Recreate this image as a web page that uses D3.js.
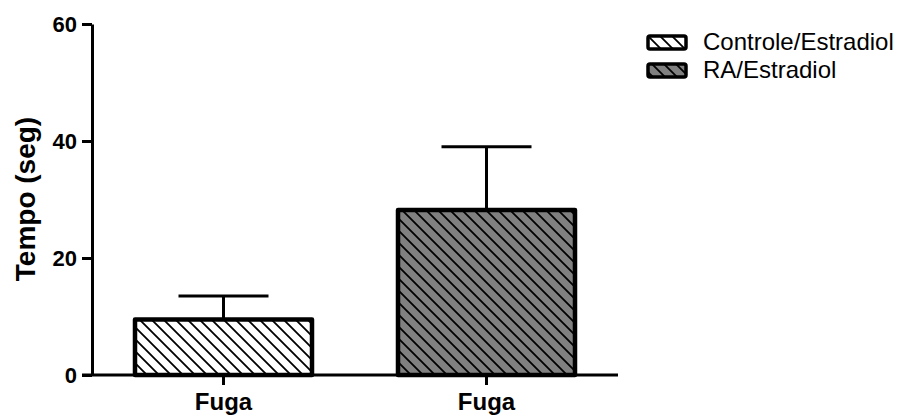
<!DOCTYPE html>
<html>
<head>
<meta charset="utf-8">
<script src="https://cdn.jsdelivr.net/npm/d3@7"></script>
<style>
  html, body { margin: 0; padding: 0; background: #fff; }
  svg { display: block; font-family: Arial, "Liberation Sans", sans-serif; }
</style>
</head>
<body>
<svg id="chart" width="908" height="417"></svg>
<script>
// Escape latency per group (seconds), mean and upper error
const groups = ["Controle/Estradiol", "RA/Estradiol"];
const categories = ["Fuga", "Fuga"];
const means = [9.5, 28.2];
const errors = [4.0, 10.8];
const fills = ["#ffffff", "#808080"];
const yTicks = [0, 20, 40, 60];

const FONT = "Arial, 'Liberation Sans', sans-serif";
const svg = d3.select("#chart");
const defs = svg.append("defs");

// Diagonal hatch ("\") patterns, one per fill colour
fills.forEach((c, i) => {
  const p = defs.append("pattern")
    .attr("id", "hatch" + i)
    .attr("patternUnits", "userSpaceOnUse")
    .attr("width", 12).attr("height", 12);
  p.append("rect").attr("width", 12).attr("height", 12).attr("fill", c);
  p.append("path")
    .attr("d", "M-3,9 L3,15 M0,0 L12,12 M9,-3 L15,3")
    .attr("stroke", "#000").attr("stroke-width", 1.8);
});

const y = d3.scaleLinear().domain([0, 60]).range([375, 24]);
const x = d3.scaleBand().domain(d3.range(means.length)).range([92, 618])
  .paddingInner(0.327).paddingOuter(0.1635);

// Y axis
const yAxis = svg.append("g").attr("transform", "translate(92,0)")
  .call(d3.axisLeft(y).tickValues(yTicks).tickSize(10).tickPadding(5).tickSizeOuter(0));
yAxis.select(".domain").attr("stroke", "#000").attr("stroke-width", 3);
yAxis.selectAll(".tick line").attr("stroke", "#000").attr("stroke-width", 3);
yAxis.selectAll(".tick text").attr("font-size", 22).attr("font-weight", "bold")
  .attr("fill", "#000").attr("font-family", FONT);

svg.append("text")
  .attr("transform", "translate(35,199) rotate(-90)")
  .attr("text-anchor", "middle")
  .attr("font-size", 28).attr("font-weight", "bold")
  .text("Tempo (seg)");

// Error bars (upper only)
const eb = svg.append("g");
means.forEach((m, i) => {
  const cx = x(i) + x.bandwidth() / 2;
  eb.append("line").attr("x1", cx).attr("x2", cx)
    .attr("y1", y(m)).attr("y2", y(m + errors[i]))
    .attr("stroke", "#000").attr("stroke-width", 3);
  eb.append("line").attr("x1", cx - 45).attr("x2", cx + 45)
    .attr("y1", y(m + errors[i])).attr("y2", y(m + errors[i]))
    .attr("stroke", "#000").attr("stroke-width", 3);
});

// X axis
svg.append("line").attr("x1", 82).attr("x2", 618)
  .attr("y1", y(0)).attr("y2", y(0))
  .attr("stroke", "#000").attr("stroke-width", 3);

// Bars
svg.append("g").selectAll("rect").data(means).join("rect")
  .attr("x", (d, i) => x(i))
  .attr("y", d => y(d))
  .attr("width", x.bandwidth())
  .attr("height", d => y(0) - y(d))
  .attr("fill", (d, i) => `url(#hatch${i})`)
  .attr("stroke", "#000").attr("stroke-width", 4.5)
  .attr("stroke-linejoin", "round");

// Category ticks and labels
categories.forEach((c, i) => {
  const cx = x(i) + x.bandwidth() / 2;
  svg.append("line").attr("x1", cx).attr("x2", cx)
    .attr("y1", y(0)).attr("y2", y(0) + 10)
    .attr("stroke", "#000").attr("stroke-width", 3);
  svg.append("text").attr("x", cx).attr("y", 410)
    .attr("text-anchor", "middle").attr("font-size", 24).attr("font-weight", "bold")
    .text(c);
});

// Legend
const lg = svg.append("g");
groups.forEach((g, i) => {
  const ly = 36 + i * 28;
  lg.append("rect").attr("x", 648).attr("y", ly).attr("width", 38).attr("height", 13)
    .attr("rx", 2)
    .attr("fill", `url(#hatch${i})`).attr("stroke", "#000").attr("stroke-width", 3.5);
  lg.append("text").attr("x", 703).attr("y", ly + 14)
    .attr("font-size", 24).text(g);
});
</script>
</body>
</html>
